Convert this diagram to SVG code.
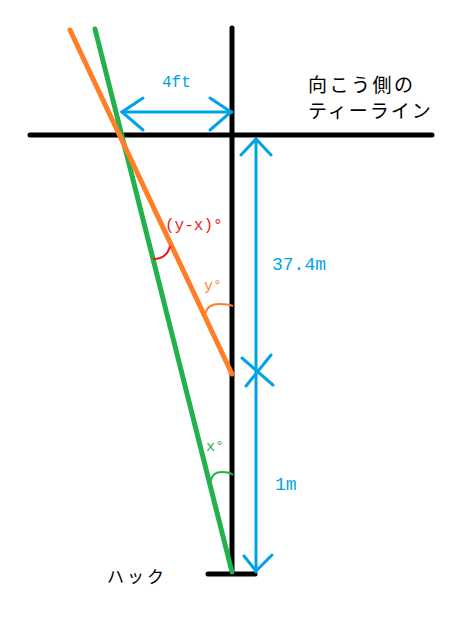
<svg xmlns="http://www.w3.org/2000/svg" width="476" height="628" viewBox="0 0 476 628">
<style>
.blk{stroke:#000;stroke-width:5;fill:none;stroke-linecap:round}
.grn{stroke:#22b14c;stroke-width:5;fill:none;stroke-linecap:round}
.org{stroke:#ff7f27;stroke-width:5;fill:none;stroke-linecap:round}
.blu{stroke:#00a2e8;stroke-width:3;fill:none;stroke-linecap:round}
.arc{stroke-width:2;fill:none}
.jp{font-family:"Noto Sans CJK JP","Noto Sans",sans-serif;fill:#000}
.num{font-family:"Liberation Mono",monospace}
</style>
<rect width="476" height="628" fill="#fff"/>
<g id="axes">
<line class="blk" x1="232" y1="28" x2="232" y2="573"/>
<line class="blk" x1="30" y1="135" x2="432" y2="135"/>
<line class="blk" x1="208" y1="574" x2="255" y2="574"/>
</g>
<g id="connectors">
<line class="grn" x1="95" y1="29" x2="232" y2="572"/>
<line class="org" x1="70" y1="30" x2="232" y2="374"/>
<g id="dim-4ft">
<line class="blu" x1="122" y1="112" x2="232" y2="112"/>
<polyline class="blu" points="143,98 122,112 143,130"/>
<polyline class="blu" points="210,98 231,112 210,130"/>
</g>
<g id="dim-vertical">
<line class="blu" x1="256" y1="139" x2="256" y2="572"/>
<polyline class="blu" points="241,155 256,139 271,155"/>
<polyline class="blu" points="244,556 256,571 272,555"/>
<line class="blu" x1="242" y1="358" x2="273" y2="385"/>
<line class="blu" x1="271" y1="355" x2="246" y2="386"/>
</g>
<path class="arc" stroke="#ed1c24" d="M153,259 Q167,259 170,246"/>
<path class="arc" stroke="#ff7f27" d="M206,313 Q207,304 220,304 Q228,304 233,306"/>
<path class="arc" stroke="#22b14c" d="M211,481 Q212,472 222,472 Q230,472 233,475"/>
</g>
<g id="label-4ft"><text class="num" x="162" y="87" font-size="16" fill="#00a2e8">4ft</text></g>
<g id="label-teeline">
<text class="jp" x="308" y="92" font-size="19" letter-spacing="2.5">向こう側の</text>
<text class="jp" x="308" y="118" font-size="19" letter-spacing="2">ティーライン</text>
</g>
<g id="label-yx"><text class="num" x="165" y="230" font-size="16" fill="#ed1c24">(y-x)°</text></g>
<g id="label-y"><text class="num" x="204" y="290" font-size="15" fill="#ff7f27">y°</text></g>
<g id="label-374"><text class="num" x="272" y="270" font-size="18" fill="#00a2e8">37.4m</text></g>
<g id="label-x"><text class="num" x="206" y="451" font-size="15" fill="#22b14c">x°</text></g>
<g id="label-1m"><text class="num" x="275" y="490" font-size="18" fill="#00a2e8">1m</text></g>
<g id="label-hook"><text class="jp" x="107" y="583" font-size="17" letter-spacing="3">ハック</text></g>
</svg>
